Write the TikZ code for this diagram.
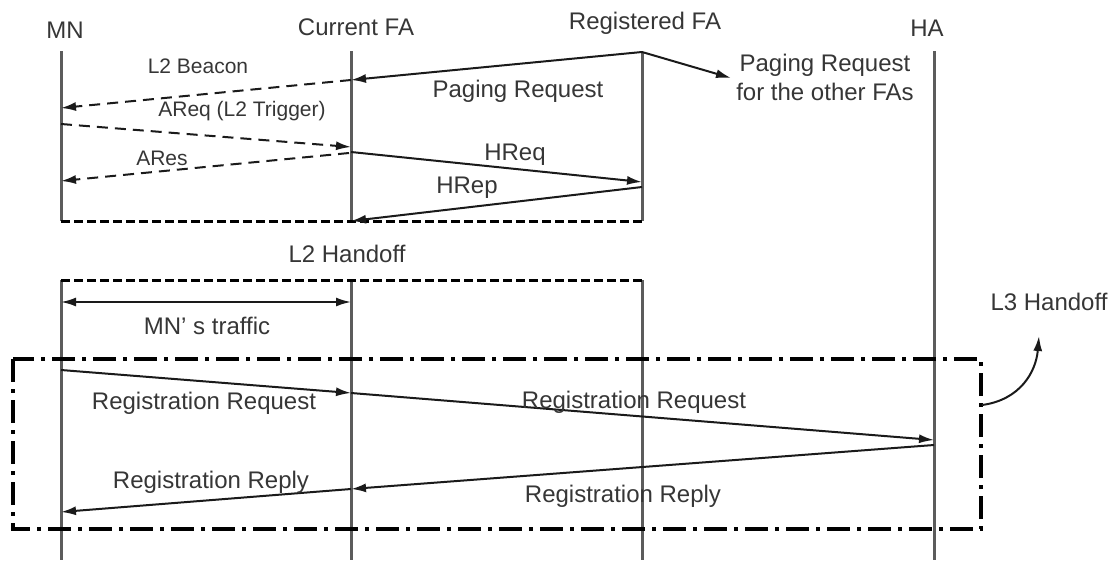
\documentclass[tikz,border=0pt]{standalone}
\usepackage{fontspec}
\setmainfont{Liberation Sans}
\usetikzlibrary{arrows.meta}
\definecolor{lifegray}{HTML}{5C5C5C}
\definecolor{ink}{HTML}{1A1A1A}
\definecolor{txt}{HTML}{363636}
\tikzset{
  lifeline/.style={lifegray, line width=3pt},
  msg/.style={ink, line width=2pt, -{Latex[length=15pt,width=9pt]}},
  twoway/.style={ink, line width=2pt, {Latex[length=15pt,width=9pt]}-{Latex[length=15pt,width=9pt]}},
  dmsg/.style={msg, dash pattern=on 11pt off 7pt},
  l2edge/.style={black, line width=3pt, dash pattern=on 9pt off 4pt},
  l3box/.style={black, line width=4pt, dash pattern=on 23pt off 7pt on 4pt off 7pt},
  bigtext/.style={txt, font=\fontsize{24}{29}\selectfont, inner sep=0pt, anchor=base},
  smalltext/.style={txt, font=\fontsize{21}{25}\selectfont, inner sep=0pt, anchor=base},
}
\begin{document}
\begin{tikzpicture}[x=1pt,y=-1pt]
\useasboundingbox (0,0) rectangle (1113,560);

% entity names
\node[bigtext] (tMN)  at (65,38)    {MN};
\node[bigtext] (tCFA) at (356,35)   {Current FA};
\node[bigtext] (tRFA) at (645,29.5) {Registered FA};
\node[bigtext] (tHA)  at (927,36)   {HA};

% lifeline end points (upper part, gap for the L2 handoff, lower part)
\coordinate (mnA)  at (61,51);  \coordinate (mnB)  at (61,221);
\coordinate (mnC)  at (61,280); \coordinate (mnD)  at (61,560);
\coordinate (cfaA) at (351,51);  \coordinate (cfaB) at (351,221);
\coordinate (cfaC) at (351,280); \coordinate (cfaD) at (351,560);
\coordinate (rfaA) at (642,52);  \coordinate (rfaB) at (642,221);
\coordinate (rfaC) at (642,280); \coordinate (rfaD) at (642,560);
\coordinate (haA)  at (934,51);  \coordinate (haD)  at (934,560);

\draw[lifeline] (mnA) -- (mnB);   \draw[lifeline] (mnC) -- (mnD);
\draw[lifeline] (cfaA) -- (cfaB); \draw[lifeline] (cfaC) -- (cfaD);
\draw[lifeline] (rfaA) -- (rfaB); \draw[lifeline] (rfaC) -- (rfaD);
\draw[lifeline] (haA) -- (haD);

% L2 handoff boundaries
\draw[l2edge] (mnB) -- (rfaB);
\draw[l2edge] (mnC) -- (rfaC);
\node[bigtext] (tL2) at (347,262) {L2 Handoff};

% paging and L2 signalling
\coordinate (pgC)  at (351,80);
\coordinate (pgM)  at (61,108);
\coordinate (pgO)  at (731,78);
\draw[msg] (rfaA) -- (pgC);
\draw[dmsg] (pgC) -- (pgM);
\draw[msg] (rfaA) -- (pgO);
\node[smalltext] (tBeacon) at (198,73) {L2 Beacon};
\node[bigtext] (tPaging) at (518,97) {Paging Request};
\node[bigtext] (tOther1) at (825,71) {Paging Request};
\node[bigtext] (tOther2) at (825,100) {for the other FAs};

\coordinate (aqM) at (61,124);
\coordinate (aqC) at (351,147);
\draw[dmsg] (aqM) -- (aqC);
\node[smalltext] (tAReq) at (242,116) {AReq (L2 Trigger)};

\coordinate (hqC) at (351,152);
\coordinate (hqR) at (642,182);
\draw[msg] (hqC) -- (hqR);
\node[bigtext] (tHReq) at (515,160) {HReq};

\coordinate (arC) at (349,153);
\coordinate (arM) at (61,181);
\draw[dmsg] (arC) -- (arM);
\node[smalltext] (tARes) at (162,165) {ARes};

\coordinate (hpR) at (642,187);
\coordinate (hpC) at (351,221);
\draw[msg] (hpR) -- (hpC);
\node[bigtext] (tHRep) at (467,193) {HRep};

% traffic during the handoff
\coordinate (trM) at (61,302);
\coordinate (trC) at (351,302);
\draw[twoway] (trM) -- (trC);
\node[bigtext] (tTraffic) at (207,334) {MN’ s traffic};

% L3 handoff region
\coordinate (boxA) at (13,359);
\coordinate (boxB) at (981,529);
\draw[l3box] (boxA) rectangle (boxB);

\coordinate (rqM) at (61,370);
\coordinate (rqC) at (351,393);
\coordinate (rqH) at (934,440);
\draw[msg] (rqM) -- (rqC);
\draw[msg] (rqC) -- (rqH);
\node[bigtext] (tRegReq1) at (204,409) {Registration Request};
\node[bigtext] (tRegReq2) at (634,408) {Registration Request};

\coordinate (rpH) at (934,445);
\coordinate (rpC) at (351,489);
\coordinate (rpM) at (61,512);
\draw[msg] (rpH) -- (rpC);
\draw[msg] (rpC) -- (rpM);
\node[bigtext] (tRegRep1) at (211,488) {Registration Reply};
\node[bigtext] (tRegRep2) at (623,502) {Registration Reply};

% pointer to the L3 handoff label
\coordinate (l3from) at (982,405);
\node[bigtext] (tL3) at (1049,310) {L3 Handoff};
\coordinate (l3to) at (1039,336);
\draw[msg] (l3from) .. controls (1020,400) and (1036,372) .. (l3to);
\end{tikzpicture}
\end{document}
